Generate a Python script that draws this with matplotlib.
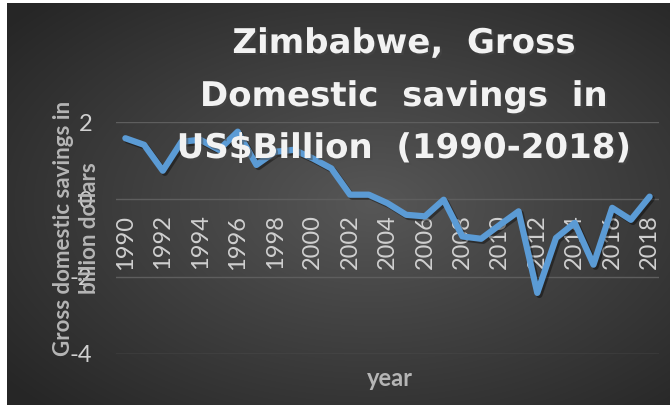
import numpy as np
import matplotlib.pyplot as plt
import matplotlib.patheffects as pe

plt.rcParams['axes.unicode_minus'] = False

# data
years = list(range(1990, 2019))
savings = [1.58, 1.41, 0.74, 1.49, 1.54, 1.28, 1.75, 0.89, 1.23, 1.28,
           1.06, 0.80, 0.12, 0.12, -0.10, -0.40, -0.44, -0.01, -0.96, -1.02,
           -0.66, -0.31, -2.42, -1.00, -0.61, -1.69, -0.22, -0.53, 0.07]
yticks = [-4, -2, 0, 2]
title_lines = ['Zimbabwe,  Gross', 'Domestic  savings  in', 'US$Billion  (1990-2018)']

W, H = 670, 405
fig = plt.figure(figsize=(W / 100, H / 100), dpi=100)
fig.patch.set_facecolor('white')

# dark radial-gradient background
bg = fig.add_axes([7 / W, 0, 1 - 7 / W, 1 - 3 / H])
bg.set_axis_off()
yy, xx = np.mgrid[0:1:300j, 0:1:500j]
r = np.sqrt(((xx - 0.55) / 0.75) ** 2 + ((yy - 0.5) / 0.75) ** 2)
shade = np.clip(0.34 - 0.2 * r, 0.15, 0.34)
bg.imshow(np.dstack([shade] * 3), aspect='auto', extent=[0, 1, 0, 1], interpolation='bilinear')

ax = fig.add_axes([116 / W, 1 - 354 / H, (659 - 116) / W, (354 - 122) / H])
ax.set_facecolor('none')
x = np.arange(len(years))
ax.plot(x, savings, color='#5b9bd5', lw=4.5, solid_joinstyle='round', solid_capstyle='round',
        zorder=3, path_effects=[pe.SimpleLineShadow(offset=(1.5, -1.5), shadow_color='black', alpha=0.4),
                                pe.Normal()])
ax.set_xlim(-0.5, len(years) - 0.5)
ax.set_ylim(-4, 2)
ax.set_yticks(yticks)
ax.yaxis.grid(True, color='#5e5e5e', lw=1)
ax.set_axisbelow(True)
for s in ax.spines.values():
    s.set_visible(False)
ax.spines['bottom'].set_position(('data', 0))
ax.set_xticks(x[::2])
ax.set_xticklabels([str(y) for y in years[::2]], rotation=90)
ax.tick_params(axis='x', length=0, pad=11, labelsize=17, labelcolor='#d0d0d0')
ax.tick_params(axis='y', length=0, pad=17, labelsize=17, labelcolor='#d0d0d0')
for lab in ax.get_xticklabels() + ax.get_yticklabels():
    lab.set_fontfamily('Lato')

fig.text(76.5 / W, 1 - 228 / H, 'Gross domestic savings in\nbillion dollars', rotation=90,
         ha='center', va='center', multialignment='center', fontsize=16, fontweight='bold',
         color='#b5b5b5', family='Lato', linespacing=1.3)
fig.text(390 / W, 1 - 378 / H, 'year', ha='center', va='center', fontsize=17,
         fontweight='bold', color='#b5b5b5', family='Lato')

for line, base in zip(title_lines, [53, 106, 158]):
    fig.text(404 / W, 1 - base / H, line, ha='center', va='baseline', fontsize=24.5,
             fontweight='bold', color='#f2f2f2', family='DejaVu Sans', zorder=10,
             path_effects=[pe.withSimplePatchShadow(offset=(1.5, -1.5), alpha=0.5)])

fig.savefig('out.png', dpi=100)
